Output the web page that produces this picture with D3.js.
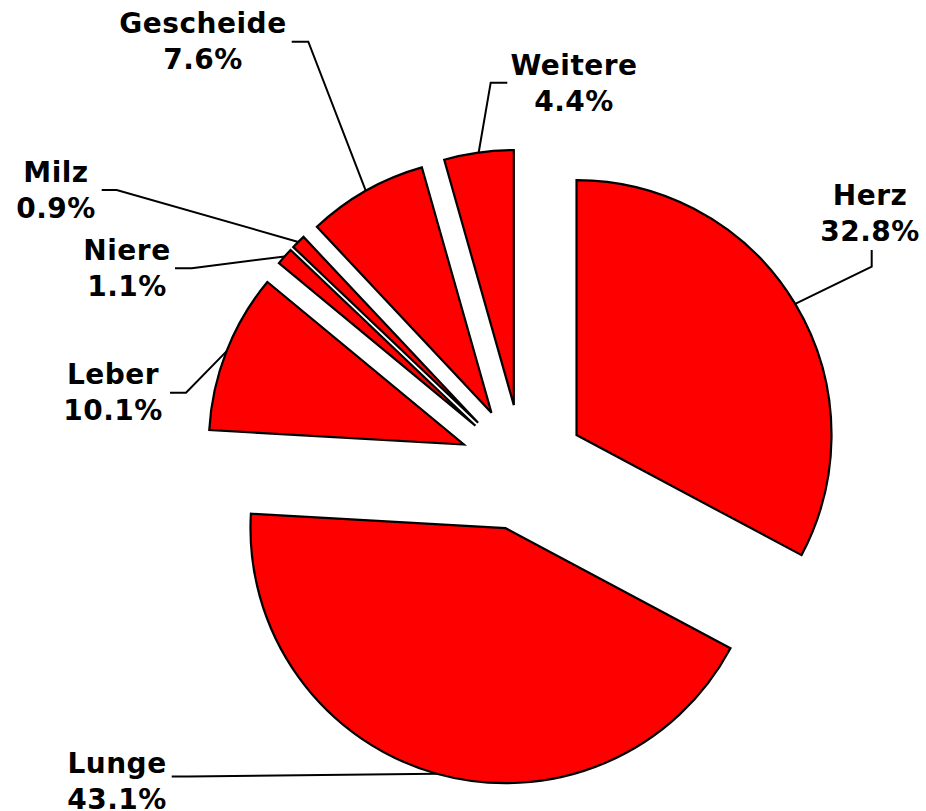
<!DOCTYPE html>
<html><head><meta charset="utf-8">
<script src="https://cdn.jsdelivr.net/npm/d3@7"></script>
<style>body{margin:0;background:#fff}svg{display:block}</style>
</head><body>
<svg id="chart" width="926" height="811"></svg>
<script>
// ---- data ----
const categories = ["Herz","Lunge","Leber","Niere","Milz","Gescheide","Weitere"];
const values = [32.8, 43.1, 10.1, 1.1, 0.9, 7.6, 4.4];
const valueLabels = ["32.8%","43.1%","10.1%","1.1%","0.9%","7.6%","4.4%"];

// ---- layout (label placement, leader elbows) ----
const labelPos = [
  {x:870, y:205, elbow:[[871.7,266.7],[871.7,250]]},
  {x:117, y:773, elbow:[[188.3,776.5],[171.7,776.5]]},
  {x:113, y:384, elbow:[[186,392.7],[170,392.7]]},
  {x:127, y:260, elbow:[[191.7,268.3],[175,268.3]]},
  {x:56,  y:182, elbow:[[116.7,190],[101.7,190]]},
  {x:203, y:33,  elbow:[[308.3,41.7],[291.7,41.7]]},
  {x:574, y:75,  elbow:[[490.7,82.7],[507.3,82.7]]}
];
const cx = 522.5, cy = 467.5, R = 255, explode = 63;
const fontSize = 28, lineGap = 35.5;

const svg = d3.select("#chart");
svg.append("rect").attr("width",926).attr("height",811).attr("fill","#fff");

const pie = d3.pie().sort(null).value(d => d.v).startAngle(0).endAngle(2*Math.PI);
const arcs = pie(categories.map((c,i) => ({c, v: values[i], lab: valueLabels[i], pos: labelPos[i]})));
const arc = d3.arc().innerRadius(0).outerRadius(R);

const g = svg.append("g").attr("transform", `translate(${cx},${cy})`);

arcs.forEach(a => {
  const mid = (a.startAngle + a.endAngle) / 2;
  a.ox = Math.sin(mid) * explode;
  a.oy = -Math.cos(mid) * explode;
  a.mid = mid;
});

g.selectAll("path.slice").data(arcs).join("path")
  .attr("class","slice")
  .attr("transform", d => `translate(${d.ox},${d.oy})`)
  .attr("d", arc)
  .attr("fill", "#ff0000")
  .attr("stroke", "#000")
  .attr("stroke-width", 2.2)
  .attr("stroke-linejoin", "miter");

// leader lines
const line = d3.line();
svg.selectAll("path.leader").data(arcs).join("path")
  .attr("class","leader")
  .attr("d", d => {
    const px = cx + d.ox + Math.sin(d.mid) * R;
    const py = cy + d.oy - Math.cos(d.mid) * R;
    return line([[px,py], ...d.data.pos.elbow]);
  })
  .attr("fill","none")
  .attr("stroke","#000")
  .attr("stroke-width",2);

// labels
const t = svg.selectAll("text.lbl").data(arcs).join("text")
  .attr("class","lbl")
  .attr("x", d => d.data.pos.x)
  .attr("y", d => d.data.pos.y)
  .attr("text-anchor","middle")
  .attr("font-family","'DejaVu Sans', Verdana, sans-serif")
  .attr("font-weight","bold")
  .attr("font-size", fontSize)
  .attr("letter-spacing", 0.5)
  .attr("fill","#000");
t.append("tspan").attr("x", d => d.data.pos.x).text(d => d.data.c);
t.append("tspan").attr("x", d => d.data.pos.x).attr("dy", lineGap).text(d => d.data.lab);
</script>
</body></html>
